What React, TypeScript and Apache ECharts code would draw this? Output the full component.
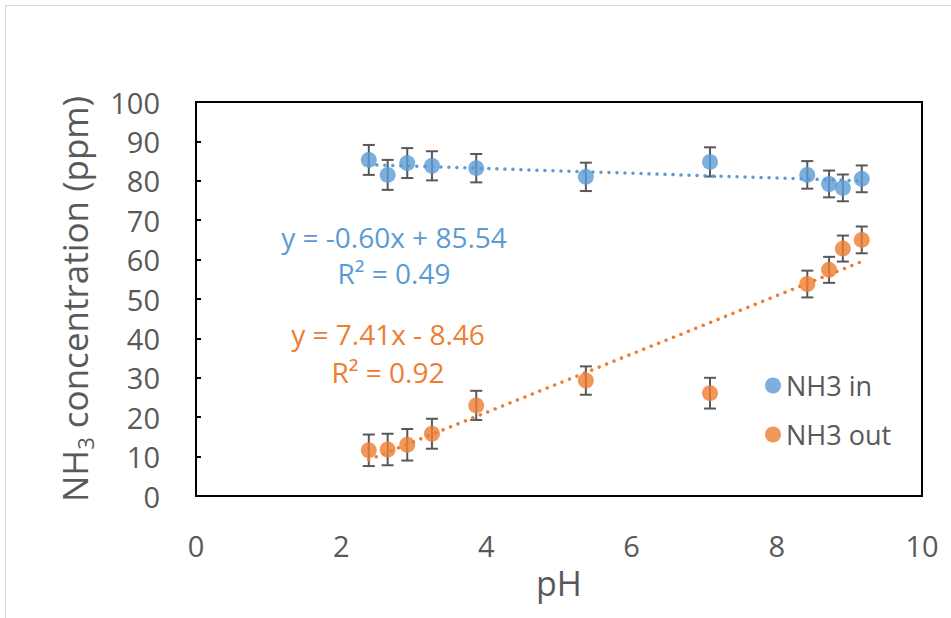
import React, { useEffect, useRef } from "react";
import * as echarts from "echarts";

const phValues = [2.38, 2.64, 2.91, 3.25, 3.86, 5.37, 7.08, 8.42, 8.72, 8.91, 9.17];
const nh3In = [85.3, 81.5, 84.5, 83.8, 83.2, 81.0, 84.8, 81.5, 79.2, 78.2, 80.5];
const nh3Out = [11.6, 11.8, 13.0, 15.8, 23.0, 29.3, 26.1, 53.8, 57.4, 62.8, 65.0];
const inErr = [3.8, 3.8, 3.8, 3.7, 3.6, 3.6, 3.7, 3.5, 3.4, 3.4, 3.4];
const outErr = [4.0, 4.0, 4.0, 3.8, 3.7, 3.6, 3.9, 3.4, 3.3, 3.3, 3.4];
const inTrend = [[2.38, 84.1], [9.17, 80.0]];
const outTrend = [[2.38, 9.2], [9.17, 59.5]];
const xTicks = [0, 2, 4, 6, 8, 10];
const yTicks = [0, 10, 20, 30, 40, 50, 60, 70, 80, 90, 100];

const BLUE = "#5B9BD5";
const ORANGE = "#ED7D31";
const GRAY = "#595959";
const FONT = "'Open Sans', 'Noto Sans', sans-serif";

function errorSeries(vals: number[], errs: number[]) {
  const data = phValues.map((x, i) => [x, vals[i] - errs[i], vals[i] + errs[i]]);
  return {
    type: "custom",
    z: 1,
    silent: true,
    data,
    renderItem: (params: any, api: any) => {
      const x = api.value(0);
      const lo = api.coord([x, api.value(1)]);
      const hi = api.coord([x, api.value(2)]);
      const hw = 6;
      const style = { stroke: GRAY, lineWidth: 2 };
      return {
        type: "group",
        children: [
          { type: "line", shape: { x1: lo[0], y1: lo[1], x2: hi[0], y2: hi[1] }, style },
          { type: "line", shape: { x1: lo[0] - hw, y1: lo[1], x2: lo[0] + hw, y2: lo[1] }, style },
          { type: "line", shape: { x1: hi[0] - hw, y1: hi[1], x2: hi[0] + hw, y2: hi[1] }, style },
        ],
      };
    },
  };
}

export default function App() {
  const ref = useRef<HTMLDivElement>(null);
  useEffect(() => {
    const chart = echarts.init(ref.current!, null, { renderer: "svg" });
    chart.setOption({
      animation: false,
      backgroundColor: "#fff",
      textStyle: { fontFamily: FONT },
      grid: {
        left: 196,
        top: 102,
        width: 726,
        height: 394,
        show: true,
        borderColor: "#000",
        borderWidth: 2,
        backgroundColor: "transparent",
      },
      xAxis: {
        type: "value",
        min: 0,
        max: 10,
        interval: 2,
        name: "pH",
        nameLocation: "middle",
        nameGap: 70,
        nameTextStyle: { fontSize: 34, color: GRAY, fontFamily: FONT },
        axisLine: { show: false },
        axisTick: { show: false },
        splitLine: { show: false },
        axisLabel: {
          fontSize: 29,
          color: GRAY,
          margin: 35,
          fontFamily: FONT,
          formatter: (v: number) => (xTicks.includes(v) ? String(v) : ""),
        },
      },
      yAxis: {
        type: "value",
        min: 0,
        max: 100,
        interval: 10,
        name: "{m|NH}{s|3}{m| concentration (ppm)}",
        nameLocation: "middle",
        nameGap: 100,
        nameTextStyle: {
          color: GRAY,
          fontFamily: FONT,
          rich: {
            m: { fontSize: 35, color: GRAY, fontFamily: FONT, lineHeight: 44, verticalAlign: "middle" },
            s: { fontSize: 22, color: GRAY, fontFamily: FONT, lineHeight: 22, verticalAlign: "bottom" },
          },
        },
        axisLine: { show: false },
        axisTick: { show: true, inside: true, length: 5, lineStyle: { color: "#000", width: 2 } },
        splitLine: { show: false },
        axisLabel: {
          fontSize: 29,
          color: GRAY,
          margin: 36,
          fontFamily: FONT,
          formatter: (v: number) => (yTicks.includes(v) ? String(v) : ""),
        },
      },
      legend: {
        orient: "vertical",
        left: 760,
        top: 367,
        itemGap: 22,
        itemWidth: 16,
        itemHeight: 16,
        icon: "circle",
        textStyle: { fontSize: 27, color: GRAY, fontFamily: FONT },
        data: ["NH3 in", "NH3 out"],
      },
      graphic: [
        {
          type: "rect",
          shape: { x: 5.5, y: 5.5, width: 1200, height: 1200 },
          style: { fill: "none", stroke: "#d9d9d9", lineWidth: 1 },
          silent: true,
          z: -10,
        },
        {
          type: "text",
          x: 394,
          y: 237,
          style: { text: "y = -0.60x + 85.54", fill: BLUE, fontSize: 28, fontFamily: FONT, align: "center", verticalAlign: "middle" },
        },
        {
          type: "text",
          x: 394,
          y: 273,
          style: { text: "R² = 0.49", fill: BLUE, fontSize: 28, fontFamily: FONT, align: "center", verticalAlign: "middle" },
        },
        {
          type: "text",
          x: 388,
          y: 334,
          style: { text: "y = 7.41x - 8.46", fill: ORANGE, fontSize: 28, fontFamily: FONT, align: "center", verticalAlign: "middle" },
        },
        {
          type: "text",
          x: 388,
          y: 372,
          style: { text: "R² = 0.92", fill: ORANGE, fontSize: 28, fontFamily: FONT, align: "center", verticalAlign: "middle" },
        },
      ],
      series: [
        {
          name: "in trend",
          type: "line",
          data: inTrend,
          symbol: "none",
          z: 2,
          silent: true,
          lineStyle: { color: BLUE, width: 3.5, type: [0.01, 8], cap: "round" },
        },
        {
          name: "out trend",
          type: "line",
          data: outTrend,
          symbol: "none",
          z: 2,
          silent: true,
          lineStyle: { color: ORANGE, width: 3.5, type: [0.01, 8], cap: "round" },
        },
        errorSeries(nh3In, inErr),
        errorSeries(nh3Out, outErr),
        {
          name: "NH3 in",
          type: "scatter",
          z: 3,
          symbolSize: 16,
          itemStyle: { color: BLUE },
          data: phValues.map((x, i) => [x, nh3In[i]]),
        },
        {
          name: "NH3 out",
          type: "scatter",
          z: 3,
          symbolSize: 16,
          itemStyle: { color: ORANGE },
          data: phValues.map((x, i) => [x, nh3Out[i]]),
        },
      ],
    });
    return () => chart.dispose();
  }, []);
  return (
    <div
      ref={ref}
      style={{ position: "fixed", left: 0, top: 0, width: 951, height: 618, background: "#fff" }}
    />
  );
}
